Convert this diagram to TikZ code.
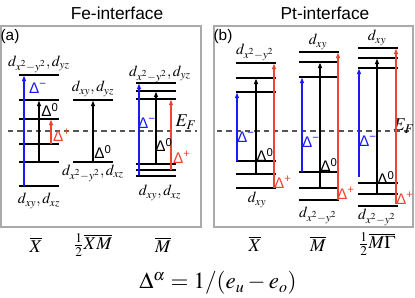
\documentclass[tikz,border=0pt]{standalone}
\usepackage{amsmath}
\usepackage{mathptmx}
\usepackage[no-math]{fontspec}
\setmainfont{Liberation Sans}
\usetikzlibrary{arrows.meta}
\definecolor{gapblue}{HTML}{1A1AF5}
\definecolor{gapred}{HTML}{EE4530}
\definecolor{fermigray}{HTML}{555555}
\definecolor{framegray}{HTML}{AAAAAA}
\newcommand{\gapsym}[1]{Δ\textsuperscript{#1}}

\begin{document}
\begin{tikzpicture}[
    x=0.75pt,y=-0.75pt,
    lev/.style   = {black, line width=0.9pt},
    gap/.style   = {-{Latex[length=4.5pt,width=3.5pt]}, line width=1pt},
    fermi/.style = {fermigray, line width=1.3pt, dash pattern=on 4pt off 3pt},
    box/.style   = {framegray, line width=1pt},
    orb/.style   = {font=\fontsize{11.5}{13}\selectfont, inner sep=0pt},
    dl/.style    = {font=\fontsize{11.5}{13}\selectfont, inner sep=0pt},
    kpt/.style   = {font=\fontsize{13.5}{15}\selectfont, inner sep=0pt},
    ttl/.style   = {font=\fontsize{13}{15}\selectfont, inner sep=0pt},
  ]
  \useasboundingbox (0,0) rectangle (415,297);

  % panels
  \draw[box] (1,26) rectangle (201,227);
  \draw[box] (214,26) rectangle (413,227);
  \node[ttl] (tfe) at (117,13) {Fe-interface};
  \node[ttl] (tpt) at (325,13) {Pt-interface};
  \node[dl]  (pa)  at (10,37)  {(a)};
  \node[dl]  (pb)  at (223,37) {(b)};

  % Fermi level
  \draw[fermi] (8,131) -- (197,131);
  \draw[fermi] (217,131) -- (410,131);
  \node[kpt] (efa) at (186,122) {$E_F$};
  \node[kpt] (efb) at (404,126) {$E_F$};

  % levels
  \foreach \x/\y in {19/75,19/100,19/119,19/144,19/162,19/186,
                     73/100,73/162,
                     136/83,136/91,136/99,136/164,136/170,136/176,
                     236/63,236/78,236/92,236/161,236/174,236/188,
                     299/52,299/62,299/77,299/172,299/188,299/200,
                     358/48,358/58,358/68,358/183,358/194,358/206}
    \draw[lev] (\x,\y) -- ++(40,0);

  % gaps
  \foreach \n/\x/\ya/\yb/\c in {aXm/24/186/75/gapblue,aXz/39/162/100/black,aXp/51/144/119/gapred,
                                aHz/93/162/100/black,
                                aMm/139/175/83/gapblue,aMz/156/164/91/black,aMp/171/170/99/gapred,
                                bXm/237/161/92/gapblue,bXz/256/174/78/black,bXp/274/188/63/gapred,
                                bMm/302/172/77/gapblue,bMz/320/188/62/black,bMp/338/200/52/gapred,
                                bGm/359/177/68/gapblue,bGz/377/194/58/black,bGp/396/204/48/gapred} {
    \coordinate (\n0) at (\x,\ya);
    \coordinate (\n1) at (\x,\yb);
    \draw[gap,\c] (\n0) -- (\n1);
  }

  % gap labels
  \node[dl,text=gapblue] (laXm) at (38,88)   {\gapsym{−}};
  \node[dl]              (laXz) at (50,110)  {\gapsym{0}};
  \node[dl,text=gapred]  (laXp) at (62,135)  {\gapsym{+}};
  \node[dl]              (laHz) at (103,152) {\gapsym{0}};
  \node[dl,text=gapblue] (laMm) at (147,123) {\gapsym{−}};
  \node[dl]              (laMz) at (164,145) {\gapsym{0}};
  \node[dl,text=gapred]  (laMp) at (182,157) {\gapsym{+}};
  \node[dl,text=gapblue] (lbXm) at (246,137) {\gapsym{−}};
  \node[dl]              (lbXz) at (265,155) {\gapsym{0}};
  \node[dl,text=gapred]  (lbXp) at (283,182) {\gapsym{+}};
  \node[dl,text=gapblue] (lbMm) at (311,142) {\gapsym{−}};
  \node[dl]              (lbMz) at (329,165) {\gapsym{0}};
  \node[dl,text=gapred]  (lbMp) at (346,193) {\gapsym{+}};
  \node[dl,text=gapblue] (lbGm) at (368,141) {\gapsym{−}};
  \node[dl]              (lbGz) at (386,178) {\gapsym{0}};
  \node[dl,text=gapred]  (lbGp) at (405,198) {\gapsym{+}};

  % orbitals
  \node[orb] (oaXt) at (39,64)   {$d_{x^2-y^2}, d_{yz}$};
  \node[orb] (oaXb) at (39,201)  {$d_{xy}, d_{xz}$};
  \node[orb] (oaHt) at (93,89)   {$d_{xy}, d_{yz}$};
  \node[orb] (oaHb) at (93,173)  {$d_{x^2-y^2}, d_{xz}$};
  \node[orb] (oaMt) at (160,74)  {$d_{x^2-y^2}, d_{yz}$};
  \node[orb] (oaMb) at (160,193) {$d_{xy}, d_{xz}$};
  \node[orb] (obXt) at (255,52)  {$d_{x^2-y^2}$};
  \node[orb] (obXb) at (257,200) {$d_{xy}$};
  \node[orb] (obMt) at (318,42)  {$d_{xy}$};
  \node[orb] (obMb) at (318,215) {$d_{x^2-y^2}$};
  \node[orb] (obGt) at (377,38)  {$d_{xy}$};
  \node[orb] (obGb) at (377,217) {$d_{x^2-y^2}$};

  % k-points
  \node[kpt] (kaX) at (36,245)  {$\overline{X}$};
  \node[kpt] (kaH) at (93,245)  {$\tfrac{1}{2}\overline{XM}$};
  \node[kpt] (kaM) at (163,245) {$\overline{M}$};
  \node[kpt] (kbX) at (255,244) {$\overline{X}$};
  \node[kpt] (kbM) at (318,244) {$\overline{M}$};
  \node[kpt] (kbG) at (377,244) {$\tfrac{1}{2}\overline{M\Gamma}$};

  \node[font=\LARGE,inner sep=0pt] (form) at (218,283) {$\Delta^{\alpha} = 1/(e_u - e_o)$};
\end{tikzpicture}
\end{document}
